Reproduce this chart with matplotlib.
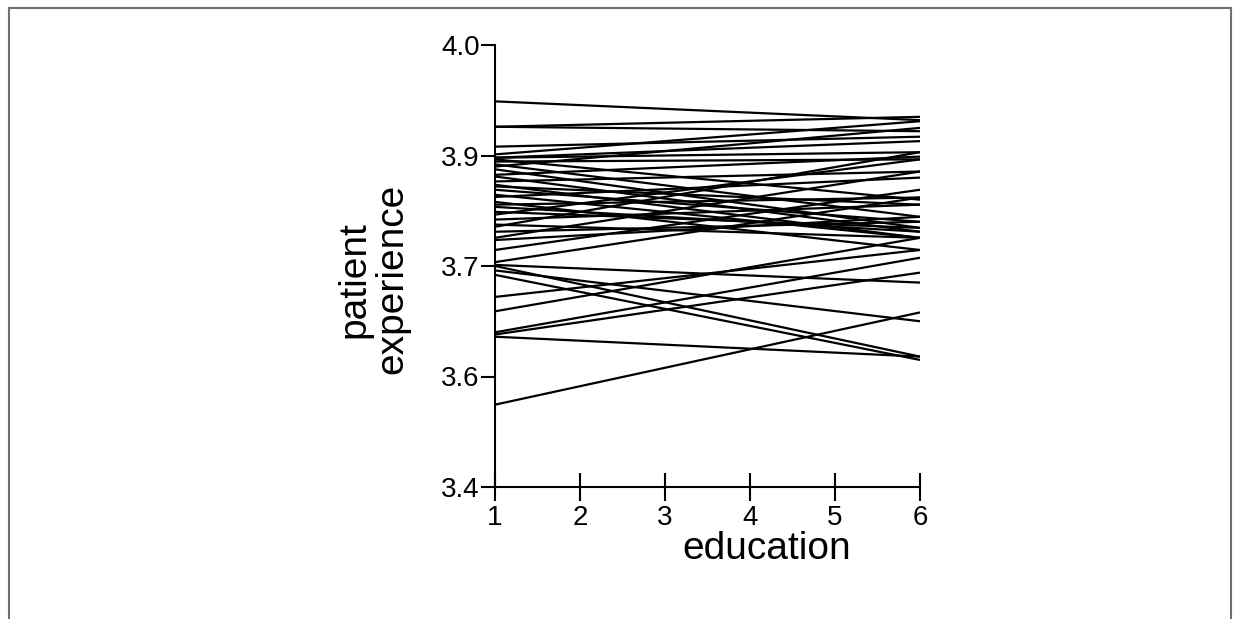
import numpy as np
import matplotlib
matplotlib.use("Agg")
import matplotlib.pyplot as plt
from matplotlib.lines import Line2D

# education levels (x) and the labelled y ticks
education = [1, 2, 3, 4, 5, 6]
y_ticks = [3.4, 3.6, 3.7, 3.9, 4.0]
y_tick_labels = ["3.4", "3.6", "3.7", "3.9", "4.0"]

# patient experience at education = 1 and at education = 6, one entry per line
start_vals = [3.949, 3.926, 3.926, 3.908, 3.901, 3.896, 3.896, 3.893, 3.889,
              3.884, 3.880, 3.875, 3.865, 3.862, 3.853, 3.847, 3.844, 3.838,
              3.829, 3.825, 3.816, 3.811, 3.807, 3.798, 3.793, 3.784, 3.775,
              3.771, 3.762, 3.751, 3.747, 3.729, 3.707, 3.702, 3.700, 3.696,
              3.692, 3.672, 3.659, 3.640, 3.638, 3.636, 3.549]
end_vals = [3.932, 3.935, 3.922, 3.917, 3.931, 3.903, 3.913, 3.820, 3.893,
            3.789, 3.925, 3.769, 3.898, 3.762, 3.871, 3.751, 3.811, 3.780,
            3.751, 3.860, 3.729, 3.824, 3.762, 3.769, 3.893, 3.811, 3.751,
            3.903, 3.780, 3.871, 3.789, 3.838, 3.824, 3.685, 3.618, 3.650,
            3.615, 3.729, 3.751, 3.715, 3.694, 3.618, 3.658]

# the axis spaces its labelled ticks evenly, so use a piecewise scale
tick_pos = np.arange(len(y_ticks))

def forward(v):
    return np.interp(v, y_ticks, tick_pos)

def inverse(p):
    return np.interp(p, tick_pos, y_ticks)


fig = plt.figure(figsize=(12.4, 6.19), dpi=100)
ax = fig.add_axes([495 / 1240, 1 - 487 / 619, 425 / 1240, 442 / 619])
ax.set_yscale("function", functions=(forward, inverse))

x_ends = [education[0], education[-1]]
for s, e in zip(start_vals, end_vals):
    ax.plot(x_ends, [s, e], color="black", lw=1.6, solid_capstyle="butt")

ax.set_xlim(1, 6)
ax.set_ylim(3.4, 4.0)
ax.set_xticks(education)
ax.set_yticks(y_ticks)
ax.set_yticklabels(y_tick_labels)
ax.minorticks_off()

for side in ["top", "right"]:
    ax.spines[side].set_visible(False)
for side in ["left", "bottom"]:
    ax.spines[side].set_linewidth(1.5)
    ax.spines[side].set_color("black")

font = "Liberation Sans"
ax.tick_params(axis="x", direction="inout", length=20, width=1.5, pad=3,
               labelsize=20)
ax.tick_params(axis="y", direction="out", length=10, width=1.5, pad=1,
               labelsize=20)
for lab in ax.get_xticklabels() + ax.get_yticklabels():
    lab.set_fontfamily(font)

ax.set_ylabel("patient\nexperience", fontsize=28, family=font, linespacing=1.05)
ax.yaxis.set_label_coords(-0.2, 0.47)
ax.set_xlabel("education", fontsize=28, family=font)
ax.xaxis.set_label_coords(0.64, -0.1)

# grey frame round the picture (bottom edge falls outside)
frame = dict(color="#707070", lw=1.5, transform=fig.transFigure)
fig.add_artist(Line2D([9 / 1240, 1231 / 1240], [1 - 8 / 619, 1 - 8 / 619], **frame))
fig.add_artist(Line2D([9 / 1240, 9 / 1240], [0, 1 - 8 / 619], **frame))
fig.add_artist(Line2D([1231 / 1240, 1231 / 1240], [0, 1 - 8 / 619], **frame))

fig.savefig("out.png", dpi=100)
